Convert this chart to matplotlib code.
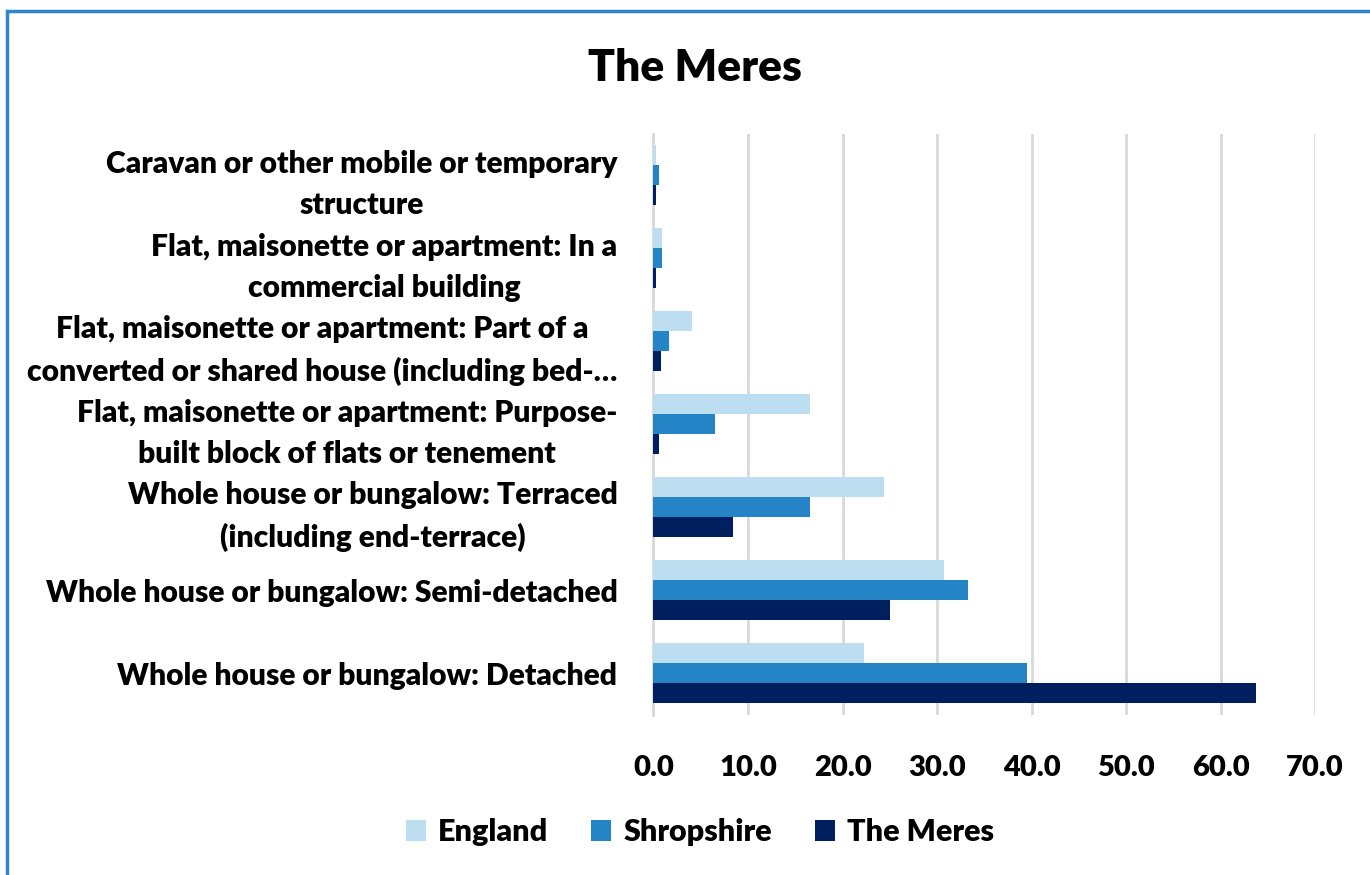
import matplotlib
matplotlib.use("Agg")
import numpy as np
import matplotlib.pyplot as plt
from matplotlib.patches import Rectangle

plt.rcParams['font.family'] = ['Lato', 'DejaVu Sans']
plt.rcParams['font.weight'] = 'heavy'

categories = [
    "Whole house or bungalow: Detached",
    "Whole house or bungalow: Semi-detached",
    "Whole house or bungalow: Terraced\n(including end-terrace)",
    "Flat, maisonette or apartment: Purpose-\nbuilt block of flats or tenement",
    "Flat, maisonette or apartment: Part of a\nconverted or shared house (including bed-…",
    "Flat, maisonette or apartment: In a\ncommercial building",
    "Caravan or other mobile or temporary\nstructure",
]
england = [22.3, 30.7, 24.4, 16.6, 4.1, 0.9, 0.3]
shropshire = [39.5, 33.3, 16.6, 6.5, 1.6, 0.9, 0.6]
meres = [63.7, 25.0, 8.4, 0.6, 0.8, 0.3, 0.3]
series_names = ["England", "Shropshire", "The Meres"]
colors = ["#BDDDF1", "#2484C6", "#001F5F"]
xticks = [0, 10, 20, 30, 40, 50, 60, 70]

fig = plt.figure(figsize=(13.7, 8.75), dpi=100)
ax = fig.add_axes([0.477, 0.183, 0.483, 0.664])

y = np.arange(len(categories))
h = 0.24
for k, (vals, name, c) in enumerate(zip([england, shropshire, meres], series_names, colors)):
    ax.barh(y + (1 - k) * h, vals, height=h, color=c, label=name, zorder=3)

ax.set_xlim(0, 70)
ax.set_ylim(-0.5, len(categories) - 0.5)
ax.set_xticks(xticks)
ax.set_xticklabels([f"{v:.1f}" for v in xticks], fontsize=21, fontweight='heavy')
ax.set_yticks(y)
ax.set_yticklabels(categories, fontsize=21.6, fontweight='heavy', multialignment='center',
                   linespacing=1.55)
ax.tick_params(axis='both', length=0)
ax.tick_params(axis='x', pad=29)
ax.tick_params(axis='y', pad=26)
ax.grid(axis='x', color='#D9D9D9', linewidth=2, zorder=0)
for s in ['top', 'right', 'bottom']:
    ax.spines[s].set_visible(False)
ax.spines['left'].set_color('#D9D9D9')
ax.spines['left'].set_linewidth(2)

fig.text(0.507, 0.922, "The Meres", ha='center', va='center', fontsize=32, fontweight='heavy')

handles, labels = ax.get_legend_handles_labels()
fig.legend(handles, labels, loc='center', bbox_to_anchor=(0.511, 0.049), ncol=3,
           frameon=False, fontsize=22, handlelength=0.65, handleheight=0.65,
           columnspacing=1.4, handletextpad=0.4)

fig.patches.append(Rectangle((7 / 1370, -0.1), 1.2, 1.1 - 11 / 875, transform=fig.transFigure,
                             fill=False, edgecolor='#2E86C8', linewidth=2.5))

fig.savefig("out.png", dpi=100)
